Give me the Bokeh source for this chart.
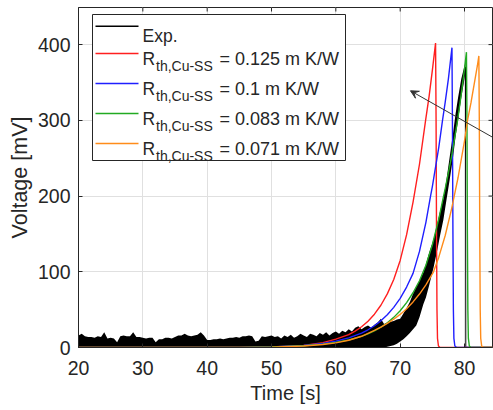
import numpy as np
from bokeh.plotting import figure
from bokeh.models import Range1d, FixedTicker, Arrow, VeeHead
from bokeh.core.properties import value
from bokeh.embed import file_html
from bokeh.resources import INLINE

# ---------------- data ----------------
x_ticks = [20, 30, 40, 50, 60, 70, 80]
y_ticks = [0, 100, 200, 300, 400]
x_label = "Time [s]"
y_label = "Voltage [mV]"

exp_label = "Exp."
r_label_main = "R"
r_label_sub = "th,Cu-SS"
r_values = ["0.125", "0.1", "0.083", "0.071"]

exp_t = [20, 20.5, 21, 21.5, 22, 22.5, 23, 23.5, 24, 24.5,
         25, 25.5, 26, 26.5, 27, 27.5, 28, 28.5, 29, 29.5,
         30, 30.5, 31, 31.5, 32, 32.5, 33, 33.5, 34, 34.5,
         35, 35.5, 36, 36.5, 37, 37.5, 38, 38.5, 39, 39.5,
         40, 40.5, 41, 41.5, 42, 42.5, 43, 43.5, 44, 44.5,
         45, 45.5, 46, 46.5, 47, 47.5, 48, 48.5, 49, 49.5,
         50, 50.5, 51, 51.5, 52, 52.5, 53, 53.5, 54, 54.5,
         55, 55.5, 56, 56.5, 57, 57.5, 58, 58.5, 59, 59.5,
         60, 60.5, 61, 61.5, 62, 62.5, 63, 63.5, 64, 64.5,
         65, 65.5, 66, 66.5, 67, 67.5, 68, 68.5, 69, 69.5,
         70,
         70.5, 71, 71.5, 72, 72.5, 73, 73.6, 74, 74.5, 75.2,
         75.8, 76.2, 76.7, 77.2, 77.7, 78.2, 78.6, 79.0, 79.5, 80.0,
         80.15, 80.2, 84.35]
exp_high = [16, 18, 15, 14, 14, 13, 15, 14, 20, 12,
            13, 12, 7, 15, 16, 15, 15, 20, 14, 14,
            13, 12, 13, 13, 7, 11, 11, 13, 13, 12,
            14, 16, 16, 18, 16, 15, 16, 17, 20, 16,
            10, 10, 11, 11, 12, 11, 12, 13, 13, 14,
            13, 15, 15, 16, 15, 8, 9, 15, 14, 15,
            16, 14, 15, 12, 16, 14, 17, 13, 15, 18,
            16, 14, 18, 17, 15, 19, 17, 20, 16, 19,
            21, 18, 22, 20, 24, 21, 26, 28, 24, 27,
            29, 26, 30, 33, 38, 31, 33, 34, 35, 37,
            38,
            45, 52, 60, 71, 80, 88, 99, 110, 125, 143,
            165, 180, 196, 222, 252, 282, 308, 330, 355, 372,
            376, 0.5, 0.5]
exp_low = [0.0] * 96 + [1, 2, 3, 5, 8,
            11, 15, 19, 24, 29, 40, 57, 66, 82, 106,
            130, 148, 168, 195, 222, 250, 278, 300, 330, 355,
            365, 0, 0]

red_t = [20, 45, 50, 55, 58, 60, 62, 63, 64, 65,
         66, 67, 68, 69, 70, 71, 72, 73, 73.95, 74.5,
         75, 75.5, 75.58, 75.65, 75.72, 75.8, 75.95, 76.2, 84.35]
red_v = [0, 0.15, 0.7, 2.8, 6.5, 11, 17, 21.6, 27.4, 34.7,
         44.0, 55.8, 70.8, 89.8, 115, 149, 192, 242, 300, 332,
         366, 402, 300, 150, 50, 12, 2, 0, 0]

blue_t = [20, 45, 50, 55, 58, 60, 62, 64, 65, 66,
          67, 68, 69, 70, 71, 72, 73, 74, 74.72, 75,
          76, 76.58, 77, 77.5, 78.05, 78.12, 78.2, 78.27, 78.35, 78.5,
          78.8, 84.35]
blue_v = [0, 0.15, 0.7, 2.6, 5.3, 8.4, 12.7, 19.1, 23.4, 28.7,
          35.2, 43.2, 53.0, 65.0, 79.8, 97.9, 126.9, 165.3, 200, 212.5,
          264.3, 300, 324, 355, 396, 300, 150, 50, 12, 2,
          0, 0]

green_t = [20, 45, 50, 55, 58, 60, 62, 64, 65, 66,
           67, 68, 69, 70, 71, 72, 73, 74, 75, 76,
           76.74, 77, 78, 78.92, 79.5, 80, 80.3, 80.38, 80.45, 80.52,
           80.6, 80.75, 81.0, 84.35]
green_v = [0, 0.15, 0.7, 2.4, 4.5, 6.7, 9.9, 14.7, 18.0, 21.9,
           26.8, 32.6, 39.8, 48.6, 59.3, 72.3, 88.2, 108.6, 135.7, 169.6,
           200, 209.9, 252.8, 300, 335, 368, 390, 300, 150, 50,
           12, 2, 0, 0]

orange_t = [20, 45, 50, 55, 58, 60, 62, 64, 66, 67,
            68, 69, 70, 71, 72, 73, 74, 75.18, 76, 77,
            78, 78.4, 79, 80, 80.47, 81, 82, 82.23, 82.3, 82.37,
            82.44, 82.52, 82.67, 82.95, 84.35]
orange_v = [0, 0.1, 0.5, 1.9, 3.9, 6.1, 9.6, 14.8, 22.5, 27,
            31.8, 37.3, 43.7, 51.3, 60.2, 70.6, 82.8, 100, 119.3, 147.9,
            183.4, 200, 224.5, 273, 300, 322.9, 372.1, 385, 300, 150,
            50, 12, 2, 0, 0]

arrow_tail = (84.5, 277)
arrow_head = (71.6, 339)

# ---------------- styling ----------------
X0, X1 = 20, 84.35
Y0, Y1 = 0, 449
FW, FH = 414, 340
TXT = "#262626"
FONT = "Liberation Sans"
exp_color = "#000000"
model_colors = ["#ff1f1f", "#1f1fff", "#22aa22", "#ff8c1a"]
models = [(red_t, red_v), (blue_t, blue_v), (green_t, green_v), (orange_t, orange_v)]

p = figure(frame_width=FW, frame_height=FH,
           x_range=Range1d(X0, X1), y_range=Range1d(Y0, Y1),
           output_backend="svg", toolbar_location=None,
           min_border_left=78, min_border_right=1, min_border_top=7, min_border_bottom=62,
           background_fill_color="white", border_fill_color="white")
p.outline_line_color = TXT
p.outline_line_width = 1

for ax, ticks in ((p.xaxis[0], x_ticks), (p.yaxis[0], y_ticks)):
    ax.ticker = FixedTicker(ticks=ticks)
    ax.axis_line_color = TXT
    ax.major_tick_line_color = TXT
    ax.major_tick_in = 4
    ax.major_tick_out = 0
    ax.minor_tick_line_color = None
    ax.major_label_text_font = FONT
    ax.major_label_text_font_size = "19.5px"
    ax.major_label_text_color = TXT
    ax.axis_label_text_font = FONT
    ax.axis_label_text_font_style = "normal"
    ax.axis_label_text_color = TXT

p.xaxis.axis_label = x_label
p.yaxis.axis_label = y_label
p.xaxis.axis_label_text_font_size = "20px"
p.yaxis.axis_label_text_font_size = "21.5px"
p.xaxis.major_label_standoff = 13
p.xaxis.axis_label_standoff = 4
p.yaxis.major_label_standoff = 8
p.yaxis.axis_label_standoff = 3

p.xgrid.grid_line_color = "#e0e0e0"
p.ygrid.grid_line_color = "#e0e0e0"

# top / right tick marks (box on)
tlx = 4 * (X1 - X0) / FW
tly = 4 * (Y1 - Y0) / FH
p.segment(x0=x_ticks, x1=x_ticks, y0=[Y1] * len(x_ticks), y1=[Y1 - tly] * len(x_ticks),
          line_color=TXT, line_width=1)
p.segment(x0=[X1] * len(y_ticks), x1=[X1 - tlx] * len(y_ticks), y0=y_ticks, y1=y_ticks,
          line_color=TXT, line_width=1)

# experimental data
exp_mid = [(a + b) / 2 for a, b in zip(exp_low, exp_high)]
p.varea(x=exp_t, y1=exp_low, y2=exp_high, fill_color=exp_color)
p.line(exp_t, exp_mid, line_color=exp_color, line_width=1)

# model curves
for (t, v), c in zip(models, model_colors):
    p.line(t, v, line_color=c, line_width=1.4)

# arrow
p.add_layout(Arrow(x_start=arrow_tail[0], y_start=arrow_tail[1],
                   x_end=arrow_head[0], y_end=arrow_head[1],
                   line_color="#333333", line_width=1,
                   end=VeeHead(size=8, line_color="#333333", fill_color="#333333", line_width=1)))

# ---------------- legend (drawn by hand, for the subscripts) ----------------
def px_x(px):
    return X0 + (px - 78.0) * (X1 - X0) / 414.0

def px_y(py):
    return Y1 - (py - 7.0) * (Y1 - Y0) / 340.0

p.quad(left=[px_x(92)], right=[px_x(345)], top=[px_y(14)], bottom=[px_y(160)],
       fill_color="white", line_color=TXT, line_width=1)

line_rows = [25.7] + [53 + 30 * i for i in range(4)]
p.segment(x0=[px_x(95)] * 5, x1=[px_x(138)] * 5,
          y0=[px_y(r) for r in line_rows], y1=[px_y(r) for r in line_rows],
          line_color=[exp_color] + model_colors, line_width=1.4)

common = dict(text_font=value(FONT), text_color=TXT, text_align="left", text_baseline="alphabetic")
p.text(x=[px_x(142)], y=[px_y(35)], text=[exp_label], text_font_size=value("17.5px"), **common)
base_rows = [58 + 30 * i for i in range(4)]
p.text(x=[px_x(142)] * 4, y=[px_y(r) for r in base_rows], text=[r_label_main] * 4,
       text_font_size=value("17.5px"), **common)
p.text(x=[px_x(155.5)] * 4, y=[px_y(r + 7.7) for r in base_rows], text=[r_label_sub] * 4,
       text_font_size=value("14px"), **common)
p.text(x=[px_x(219)] * 4, y=[px_y(r) for r in base_rows],
       text=["= " + rv + " m K/W" for rv in r_values],
       text_font_size=value("18px"), **common)

open("out.html", "w").write(file_html(p, INLINE))
